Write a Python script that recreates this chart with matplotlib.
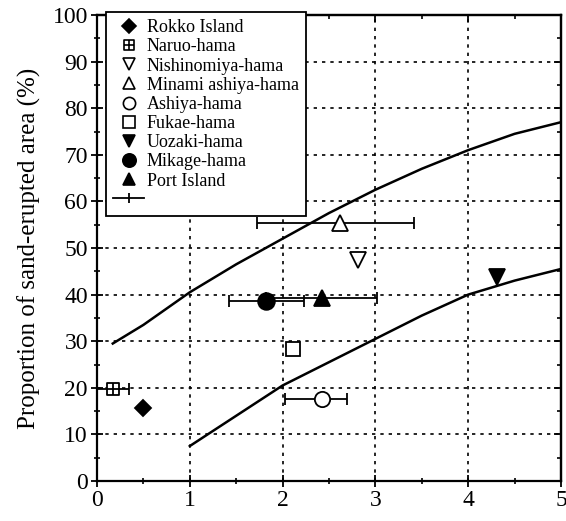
import matplotlib
matplotlib.use("Agg")
import matplotlib.pyplot as plt
from matplotlib.path import Path
from matplotlib.lines import Line2D
from matplotlib.ticker import MultipleLocator

plt.rcParams['font.family'] = ['Liberation Serif', 'DejaVu Serif']

# data
sites = ['Rokko Island', 'Naruo-hama', 'Nishinomiya-hama', 'Minami ashiya-hama',
         'Ashiya-hama', 'Fukae-hama', 'Uozaki-hama', 'Mikage-hama', 'Port Island']
x_vals = [0.50, 0.17, 2.81, 2.62, 2.42, 2.11, 4.31, 1.82, 2.42]
y_vals = [15.7, 19.7, 47.5, 55.3, 17.7, 28.4, 43.8, 38.7, 39.2]
xerr_lo = [0, 0.17, 0, 0.90, 0.39, 0, 0, 0.40, 0.60]
xerr_hi = [0, 0.17, 0, 0.80, 0.27, 0, 0, 0.41, 0.60]

upper_x = [0.17, 0.5, 1.0, 1.5, 2.0, 2.5, 3.0, 3.5, 4.0, 4.5, 5.0]
upper_y = [29.5, 33.5, 40.5, 46.5, 52.0, 57.5, 62.5, 67.0, 71.0, 74.5, 77.0]
lower_x = [1.0, 1.5, 2.0, 2.5, 3.0, 3.5, 4.0, 4.5, 5.0]
lower_y = [7.5, 14.0, 20.5, 25.5, 30.5, 35.5, 40.0, 43.0, 45.5]

# square with a cross inside (Naruo-hama)
sq_plus = Path([(-1, -1), (1, -1), (1, 1), (-1, 1), (-1, -1),
                (-1, 0), (1, 0), (0, -1), (0, 1)],
               [Path.MOVETO, Path.LINETO, Path.LINETO, Path.LINETO, Path.CLOSEPOLY,
                Path.MOVETO, Path.LINETO, Path.MOVETO, Path.LINETO])

# marker, size, face colour for every site
styles = [('D', 8.5, 'black'),
          (sq_plus, 9, 'white'),
          ('v', 11, 'white'),
          ('^', 11, 'white'),
          ('o', 11, 'white'),
          ('s', 10, 'white'),
          ('v', 11, 'black'),
          ('o', 12, 'black'),
          ('^', 11, 'black')]

fig = plt.figure(figsize=(5.66, 5.21), dpi=100)
ax = fig.add_axes([97/566, 1 - 481/521, (561 - 97)/566, (481 - 15)/521])

ax.plot(upper_x, upper_y, color='black', lw=1.8, zorder=2)
ax.plot(lower_x, lower_y, color='black', lw=1.8, zorder=2)

handles = []
for i in range(len(sites)):
    m, ms, fc = styles[i]
    if xerr_lo[i] > 0:
        ax.errorbar(x_vals[i], y_vals[i], xerr=[[xerr_lo[i]], [xerr_hi[i]]],
                    fmt='none', ecolor='black', elinewidth=1.3, capsize=4,
                    capthick=1.3, zorder=3)
    ax.plot(x_vals[i], y_vals[i], linestyle='none', marker=m, markersize=ms,
            markerfacecolor=fc, markeredgecolor='black', markeredgewidth=1.3, zorder=4)
    handles.append(Line2D([], [], linestyle='none', marker=m, markersize=ms * 0.8,
                          markerfacecolor=fc, markeredgecolor='black',
                          markeredgewidth=1.2, label=sites[i]))
handles.append(Line2D([], [], color='black', lw=1.3, marker='|', markersize=7,
                      markeredgewidth=1.3, label=' '))

ax.set_xlim(0, 5)
ax.set_ylim(0, 100)
ax.xaxis.set_major_locator(MultipleLocator(1))
ax.xaxis.set_minor_locator(MultipleLocator(0.5))
ax.yaxis.set_major_locator(MultipleLocator(10))
ax.yaxis.set_minor_locator(MultipleLocator(5))
ax.tick_params(which='major', direction='inout', length=9, width=1.3,
               labelsize=17, pad=2)
ax.tick_params(which='minor', direction='inout', length=5, width=1.2)
for s in ax.spines.values():
    s.set_linewidth(1.6)

# inward ticks on top and right
top = ax.secondary_xaxis('top')
right = ax.secondary_yaxis('right')
top.xaxis.set_major_locator(MultipleLocator(1))
top.xaxis.set_minor_locator(MultipleLocator(0.5))
right.yaxis.set_major_locator(MultipleLocator(10))
right.yaxis.set_minor_locator(MultipleLocator(5))
for sec in (top, right):
    sec.tick_params(which='major', direction='in', length=5, width=1.3,
                    labelleft=False, labelright=False, labeltop=False)
    sec.tick_params(which='minor', direction='in', length=3, width=1.2)
    for s in sec.spines.values():
        s.set_linewidth(1.6)

ax.grid(True, which='major', color='black', linestyle=(0, (2, 3)), linewidth=1.2)

ax.set_ylabel('Proportion of sand-erupted area (%)', fontsize=18, labelpad=8)

leg = ax.legend(handles=handles, loc='upper left',
                bbox_to_anchor=(106/566, 1 - 12/521), bbox_transform=fig.transFigure,
                borderaxespad=0, fontsize=13, labelspacing=0.12, handlelength=1.7,
                handletextpad=0.15, borderpad=0.4, fancybox=False, framealpha=1,
                edgecolor='black')
leg.get_frame().set_linewidth(1.3)
leg.set_zorder(10)

fig.savefig('out.png', dpi=100)
